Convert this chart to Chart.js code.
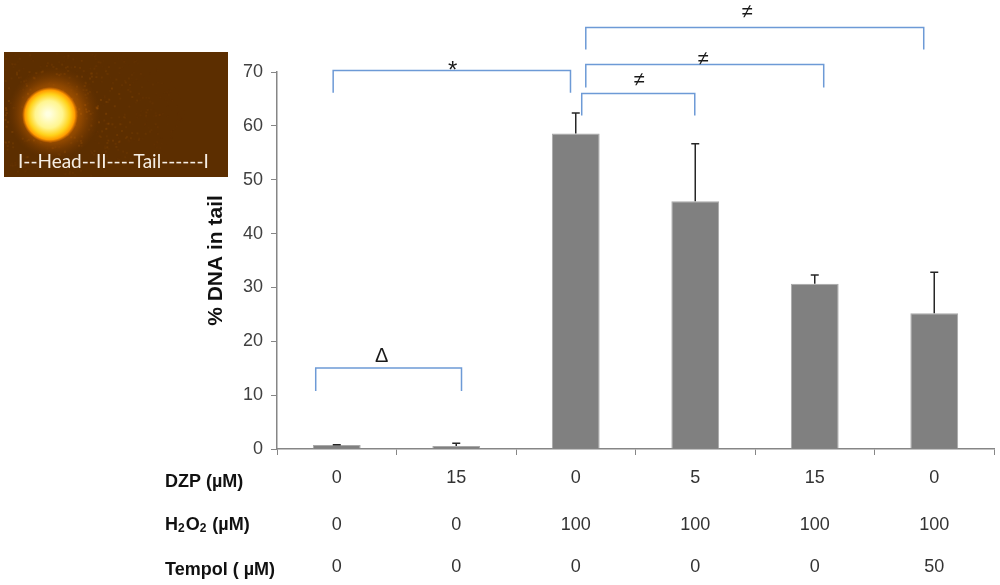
<!DOCTYPE html>
<html>
<head>
<meta charset="utf-8">
<script src="https://cdn.jsdelivr.net/npm/chart.js@4.4.1/dist/chart.umd.min.js"></script>
<style>
html,body{margin:0;padding:0;background:#fff;}
#wrap{width:1000px;height:585px;position:relative;}
</style>
</head>
<body>
<div id="wrap"><canvas id="c" width="1000" height="585"></canvas></div>
<script>
// ---- data ----
const categories = ['G1','G2','G3','G4','G5','G6'];
const dnaInTail = [0.74, 0.55, 58.6, 46.0, 30.7, 25.2];
const errorSD   = [0.06, 0.5, 3.8, 10.7, 1.6, 7.6];
const dzpRow    = ['0','15','0','5','15','0'];
const h2o2Row   = ['0','0','100','100','100','100'];
const tempolRow = ['0','0','0','0','0','50'];
const yTicksMax = 70;
const yTickStep = 10;
// significance brackets (category index range, value heights)
const bracketFrom   = [-0.176, -0.03, 2.05, 2.084, 2.084];
const bracketTo     = [1.044, 1.956, 2.996, 4.075, 4.912];
const bracketTop    = [15.06, 70.28, 66.0, 71.39, 78.27];
const bracketLeg    = [10.78, 66.13, 61.91, 67.12, 74.18];
const bracketLabel  = ['\u0394', '*', '\u2260', '\u2260', '\u2260'];
const bracketLabelX = [0.377, 0.969, 2.529, 3.065, 3.434];
const bracketLabelY = [17.1, 70.2, 68.5, 72.3, 81.0];

const AX = '#868686';
const FONT = '"Liberation Sans", Arial, sans-serif';

// deterministic speckle pattern for the comet tail texture
function speckle(ctx, x0, y0, w, h) {
  let s = 12345;
  const rnd = () => { s = (s * 16807) % 2147483647; return s / 2147483647; };
  for (let k = 0; k < 900; k++) {
    const px = x0 + rnd() * w, py = y0 + rnd() * h;
    const dx = px - 55, dy = py - 112;
    const d = Math.sqrt(dx * dx * 0.35 + dy * dy);
    const a = Math.max(0, 0.35 - d / 220) * rnd();
    ctx.fillStyle = 'rgba(200,110,10,' + a.toFixed(3) + ')';
    ctx.fillRect(px, py, 2, 2);
  }
}

const decorPlugin = {
  id: 'decor',
  beforeDraw(chart) {
    const ctx = chart.ctx;
    ctx.save();
    ctx.fillStyle = '#fff';
    ctx.fillRect(0, 0, chart.width, chart.height);
    // comet image
    const x0 = 4, y0 = 52, w = 224, h = 125;
    ctx.fillStyle = '#5c2e00';
    ctx.fillRect(x0, y0, w, h);
    ctx.save();
    ctx.beginPath(); ctx.rect(x0, y0, w, h); ctx.clip();
    speckle(ctx, x0, y0, w, h);
    const halo = ctx.createRadialGradient(50, 115, 10, 54, 113, 46);
    halo.addColorStop(0, 'rgba(240,130,0,0.9)');
    halo.addColorStop(0.55, 'rgba(200,100,0,0.45)');
    halo.addColorStop(1, 'rgba(130,60,0,0)');
    ctx.fillStyle = halo;
    ctx.beginPath(); ctx.arc(54, 113, 46, 0, Math.PI * 2); ctx.fill();
    const core = ctx.createRadialGradient(48, 114, 2, 50, 115, 28);
    core.addColorStop(0, '#ffffe0');
    core.addColorStop(0.45, '#fff590');
    core.addColorStop(0.72, '#ffd21a');
    core.addColorStop(0.88, '#ff9c00');
    core.addColorStop(1, 'rgba(240,120,0,0)');
    ctx.fillStyle = core;
    ctx.beginPath(); ctx.arc(50, 115, 28, 0, Math.PI * 2); ctx.fill();
    ctx.restore();
    ctx.fillStyle = '#f6eee4';
    ctx.font = '19px Lato, "Open Sans", sans-serif';
    ctx.textBaseline = 'middle';
    ctx.textAlign = 'left';
    ctx.fillText('I--Head--II----Tail------I', 18, 162, 197);
    ctx.restore();
  },
  afterDraw(chart) {
    const ctx = chart.ctx;
    const xs = chart.scales.x, ys = chart.scales.y;
    ctx.save();
    // error bars
    const meta = chart.getDatasetMeta(0);
    ctx.strokeStyle = '#262626';
    ctx.lineWidth = 1.5;
    meta.data.forEach((bar, i) => {
      const yb = ys.getPixelForValue(dnaInTail[i]);
      const yt = ys.getPixelForValue(dnaInTail[i] + errorSD[i]);
      ctx.beginPath();
      ctx.moveTo(bar.x, yb); ctx.lineTo(bar.x, yt);
      ctx.moveTo(bar.x - 4, yt); ctx.lineTo(bar.x + 4, yt);
      ctx.stroke();
    });
    // brackets
    ctx.strokeStyle = '#6d9ad6';
    ctx.lineWidth = 1.5;
    for (let i = 0; i < bracketFrom.length; i++) {
      const xa = xs.getPixelForValue(bracketFrom[i]);
      const xb = xs.getPixelForValue(bracketTo[i]);
      const yt = ys.getPixelForValue(bracketTop[i]);
      const yl = ys.getPixelForValue(bracketLeg[i]);
      ctx.beginPath();
      ctx.moveTo(xa, yl); ctx.lineTo(xa, yt); ctx.lineTo(xb, yt); ctx.lineTo(xb, yl);
      ctx.stroke();
    }
    ctx.fillStyle = '#1a1a1a';
    ctx.textAlign = 'center';
    ctx.textBaseline = 'middle';
    for (let i = 0; i < bracketLabel.length; i++) {
      ctx.font = (bracketLabel[i] === '*' ? '24px ' : '20px ') + FONT;
      ctx.fillText(bracketLabel[i], xs.getPixelForValue(bracketLabelX[i]), ys.getPixelForValue(bracketLabelY[i]));
    }
    // condition rows
    const rows = [dzpRow, h2o2Row, tempolRow];
    const rowY = [478, 525, 567];
    ctx.fillStyle = '#333';
    ctx.font = '18px ' + FONT;
    rows.forEach((row, r) => {
      row.forEach((t, i) => {
        ctx.fillText(t, xs.getPixelForValue(i), rowY[r]);
      });
    });
    // row labels
    ctx.textAlign = 'left';
    ctx.fillStyle = '#111';
    const bold = 'bold 18px ' + FONT;
    const sub = 'bold 12px ' + FONT;
    ctx.font = bold;
    ctx.fillText('DZP (\u00b5M)', 165, 482);
    let x = 165;
    const parts = [['H', bold, 0], ['2', sub, 4], ['O', bold, 0], ['2', sub, 4], [' (\u00b5M)', bold, 0]];
    parts.forEach(p => {
      ctx.font = p[1];
      ctx.fillText(p[0], x, 525 + p[2]);
      x += ctx.measureText(p[0]).width + (p[1] === sub ? 1 : 0);
    });
    ctx.font = bold;
    ctx.fillText('Tempol ( \u00b5M)', 165, 570);
    ctx.restore();
  }
};

new Chart(document.getElementById('c'), {
  type: 'bar',
  data: {
    labels: categories,
    datasets: [{
      data: dnaInTail,
      backgroundColor: '#808080',
      borderColor: '#a8a8a8',
      borderWidth: 1,
      barPercentage: 0.4,
      categoryPercentage: 1.0
    }]
  },
  options: {
    responsive: false,
    animation: false,
    devicePixelRatio: 1,
    layout: { padding: { top: 72, right: 6, left: 204, bottom: 0 } },
    plugins: { legend: { display: false }, tooltip: { enabled: false } },
    scales: {
      x: {
        offset: true,
        grid: { display: true, drawOnChartArea: false, drawTicks: true, tickLength: 6, color: AX, offset: true },
        border: { color: AX, width: 1.5 },
        ticks: { display: false },
        afterFit(s) { s.height = 136; }
      },
      y: {
        min: 0, max: yTicksMax,
        ticks: { stepSize: yTickStep, color: '#404040', font: { size: 18, family: FONT }, padding: 8 },
        grid: { drawOnChartArea: false, drawTicks: true, tickLength: 6, color: AX },
        border: { color: AX, width: 1.5 },
        title: { display: true, text: '% DNA in tail', color: '#111', font: { size: 21, weight: 'bold', family: FONT }, padding: { top: 0, bottom: 0 } },
        afterFit(s) { s.width = 73; }
      }
    }
  },
  plugins: [decorPlugin]
});
</script>
</body>
</html>
